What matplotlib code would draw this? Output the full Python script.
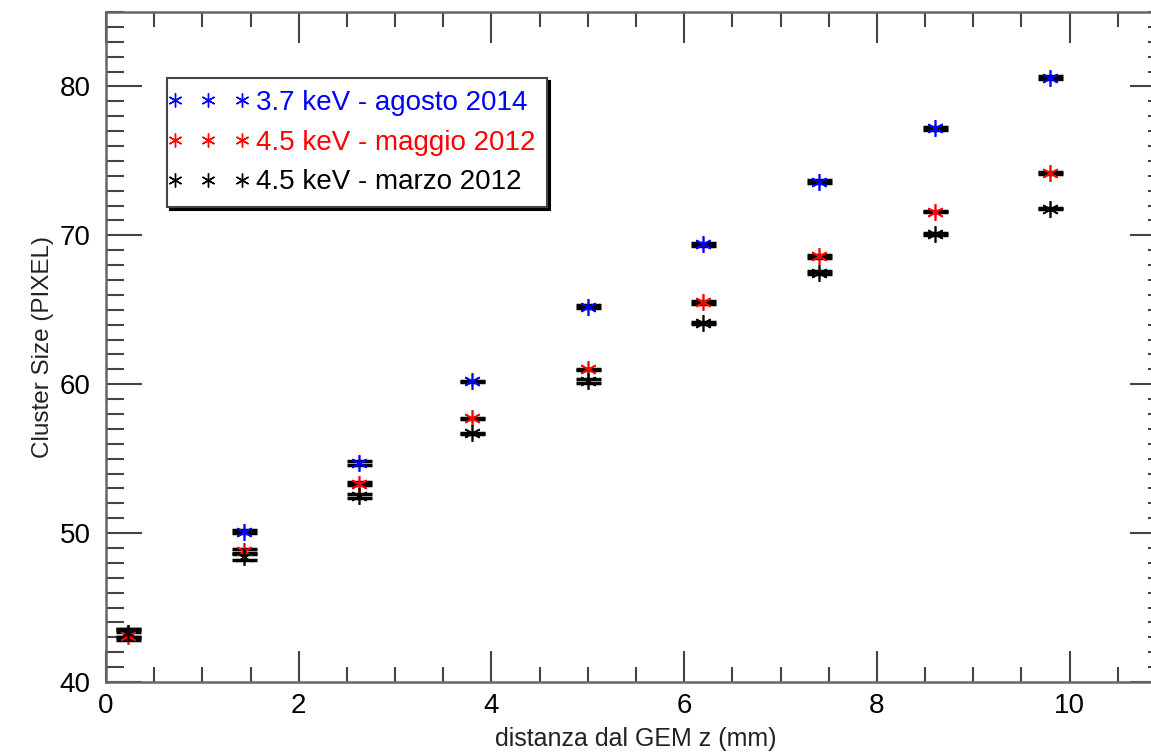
import numpy as np
import matplotlib.pyplot as plt
from matplotlib.lines import Line2D
from matplotlib.legend_handler import HandlerLine2D
from matplotlib.ticker import MultipleLocator

plt.rcParams['font.family'] = ['Liberation Sans', 'DejaVu Sans']

# distance from GEM (mm)
z = [0.23, 1.43, 2.63, 3.80, 5.00, 6.20, 7.40, 8.60, 9.80]

ago2014 = [43.3, 50.1, 54.7, 60.2, 65.2, 69.4, 73.6, 77.2, 80.6]
mag2012 = [43.1, 48.8, 53.3, 57.7, 61.0, 65.5, 68.6, 71.6, 74.2]
mar2012 = [43.3, 48.4, 52.5, 56.7, 60.2, 64.1, 67.5, 70.1, 71.8]

err_ago = [0.25, 0.1, 0.15, 0.05, 0.1, 0.1, 0.1, 0.1, 0.1]
err_mag = [0.25, 0.15, 0.1, 0.05, 0.05, 0.1, 0.1, 0.05, 0.05]
err_mar = [0.25, 0.2, 0.15, 0.05, 0.15, 0.05, 0.1, 0.05, 0.05]

labels = ['3.7 keV - agosto 2014', '4.5 keV - maggio 2012', '4.5 keV - marzo 2012']
colors = ['blue', 'red', 'black']

fig = plt.figure(figsize=(11.51, 7.52), dpi=100)
ax = fig.add_axes([106/1151, 70/752, 1060/1151, 670/752])

star = (6, 2, 0)
for y, e, c in [(ago2014, err_ago, 'blue'), (mag2012, err_mag, 'red'), (mar2012, err_mar, 'black')]:
    ax.errorbar(z, y, yerr=e, fmt='none', ecolor='black', elinewidth=1.5,
                capsize=9, capthick=2.5, zorder=2)
    ax.plot(z, y, linestyle='none', marker=star, markersize=12, mew=1.2,
            color=c, zorder=3)

ax.set_xlim(0, 11)
ax.set_ylim(40, 85)
ax.xaxis.set_major_locator(MultipleLocator(2))
ax.xaxis.set_minor_locator(MultipleLocator(0.5))
ax.yaxis.set_major_locator(MultipleLocator(10))
ax.yaxis.set_minor_locator(MultipleLocator(1))
ax.tick_params(which='both', direction='in', top=True, right=True,
               color='#444444', width=1.5, labelsize=20)
ax.tick_params(axis='x', which='major', length=22, pad=8)
ax.tick_params(axis='x', which='minor', length=11)
ax.tick_params(axis='y', which='major', length=26, pad=11)
ax.tick_params(axis='y', which='minor', length=13)
for s in ax.spines.values():
    s.set_color('#666666')
    s.set_linewidth(1.8)

ax.set_xlabel('distanza dal GEM z (mm)', fontsize=18, color='#222222', labelpad=6)
ax.set_ylabel('Cluster Size (PIXEL)', fontsize=17.5, color='#222222', labelpad=4)

handles = [Line2D([], [], linestyle='none', marker=star, markersize=10, mew=1.0, color=c)
           for c in colors]
leg = ax.legend(handles, labels, loc='upper left', bbox_to_anchor=(0.0575, 0.9015),
                handler_map={Line2D: HandlerLine2D(numpoints=3, marker_pad=-0.13)},
                handlelength=2.15, handletextpad=0.65, fontsize=20,
                labelcolor=colors, frameon=True, fancybox=False,
                shadow={'color': 'black', 'alpha': 1},
                borderpad=0.42, labelspacing=0.5, borderaxespad=0)
leg.get_frame().set_edgecolor('#444444')
leg.get_frame().set_linewidth(1.5)

fig.savefig('out.png', dpi=100)
